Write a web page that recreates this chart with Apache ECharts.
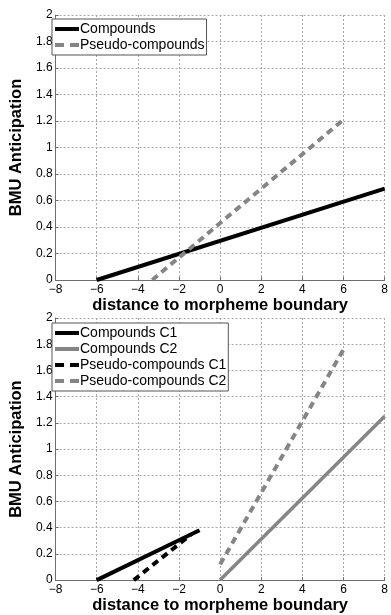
<!DOCTYPE html>
<html>
<head>
<meta charset="utf-8">
<script src="https://cdn.jsdelivr.net/npm/echarts@6/dist/echarts.min.js"></script>
<style>
  html, body { margin: 0; padding: 0; background: #fff; }
  #chart { width: 391px; height: 615px; }
</style>
</head>
<body>
<div id="chart"></div>
<script>
// top panel: [distance, anticipation] end points of each fitted line
const compounds = [[-6, 0], [8, 0.69]]
const pseudoCompounds = [[-3.3, 0], [6, 1.21]]

// bottom panel
const compoundsC1 = [[-6, 0], [-1, 0.38]]
const compoundsC2 = [[0, 0], [8, 1.25]]
const pseudoC1 = [[-4.2, 0], [-1.4, 0.35]]
const pseudoC2 = [[0, 0.12], [6, 1.76]]

const xTicks = { min: -8, max: 8, interval: 2 }
const yTicks = { min: 0, max: 2, interval: 0.2 }

const FONT = '"Liberation Sans", Arial, sans-serif'
const GRAY = '#858585'
const AXIS = '#6e6e6e'

// legend icons: thick solid bar, or two short dashes
const ICON_SOLID = 'path://M0,0H24V4H0Z'
const ICON_DASH = 'path://M0,0H9V4H0Z M15,0H24V4H15Z'

const chart = echarts.init(document.getElementById('chart'))

function xAxis(gridIndex) {
  return {
    type: 'value',
    gridIndex,
    ...xTicks,
    name: 'distance to morpheme boundary',
    nameLocation: 'middle',
    nameGap: 15,
    nameTextStyle: { fontFamily: FONT, fontSize: 16.5, fontWeight: 'bold', color: '#000' },
    axisLine: { onZero: false, lineStyle: { color: AXIS, width: 1 } },
    axisTick: { inside: true, length: 3, lineStyle: { color: AXIS } },
    axisLabel: {
      margin: 4,
      fontFamily: FONT,
      fontSize: 12,
      color: '#000',
      formatter: (v) => String(v).replace('-', '\u2212'),
    },
    splitLine: { show: true, lineStyle: { color: '#a8a8a8', type: [2, 2], width: 1 } },
  }
}

function yAxis(gridIndex) {
  return {
    type: 'value',
    gridIndex,
    ...yTicks,
    name: 'BMU Anticipation',
    nameLocation: 'middle',
    nameGap: 25,
    nameTextStyle: { fontFamily: FONT, fontSize: 16.5, fontWeight: 'bold', color: '#000' },
    axisLine: { show: true, onZero: false, lineStyle: { color: AXIS, width: 1 } },
    axisTick: { inside: true, length: 3, lineStyle: { color: AXIS } },
    axisLabel: { margin: 3, fontFamily: FONT, fontSize: 12, color: '#000' },
    splitLine: { show: true, lineStyle: { color: '#a8a8a8', type: [2, 2], width: 1 } },
  }
}

function lineSeries(name, data, idx, color, dashed, width) {
  return {
    name,
    type: 'line',
    xAxisIndex: idx,
    yAxisIndex: idx,
    data,
    symbol: 'none',
    silent: true,
    animation: false,
    lineStyle: { color, width, type: dashed ? [7, 5] : 'solid' },
    itemStyle: { color },
  }
}

function legend(items, top) {
  return {
    orient: 'vertical',
    left: 52,
    top,
    data: items.map(([name, dashed]) => ({ name, icon: dashed ? ICON_DASH : ICON_SOLID })),
    itemWidth: 24,
    itemHeight: 12,
    itemGap: 0,
    padding: [2, 2, 2, 3],
    backgroundColor: '#fff',
    borderColor: '#555',
    borderWidth: 1,
    borderRadius: 0,
    selectedMode: false,
    textStyle: { fontFamily: FONT, fontSize: 14, color: '#000', lineHeight: 16, padding: [0, 0, 0, -4] },
  }
}

const option = {
  backgroundColor: '#fff',
  animation: false,
  grid: [
    { left: 49, right: 4, top: 15, height: 265 },
    { left: 49, right: 4, top: 318, height: 266 },
  ],
  xAxis: [xAxis(0), xAxis(1)],
  yAxis: [yAxis(0), yAxis(1)],
  legend: [
    legend([['Compounds', false], ['Pseudo-compounds', true]], 19),
    legend([
      ['Compounds C1', false],
      ['Compounds C2', false],
      ['Pseudo-compounds C1', true],
      ['Pseudo-compounds C2', true],
    ], 323),
  ],
  series: [
    lineSeries('Compounds', compounds, 0, '#000', false, 4),
    lineSeries('Pseudo-compounds', pseudoCompounds, 0, GRAY, true, 4),
    lineSeries('Compounds C1', compoundsC1, 1, '#000', false, 4),
    lineSeries('Compounds C2', compoundsC2, 1, GRAY, false, 3.5),
    lineSeries('Pseudo-compounds C1', pseudoC1, 1, '#000', true, 4),
    lineSeries('Pseudo-compounds C2', pseudoC2, 1, GRAY, true, 4),
  ],
}

chart.setOption(option)
</script>
</body>
</html>
